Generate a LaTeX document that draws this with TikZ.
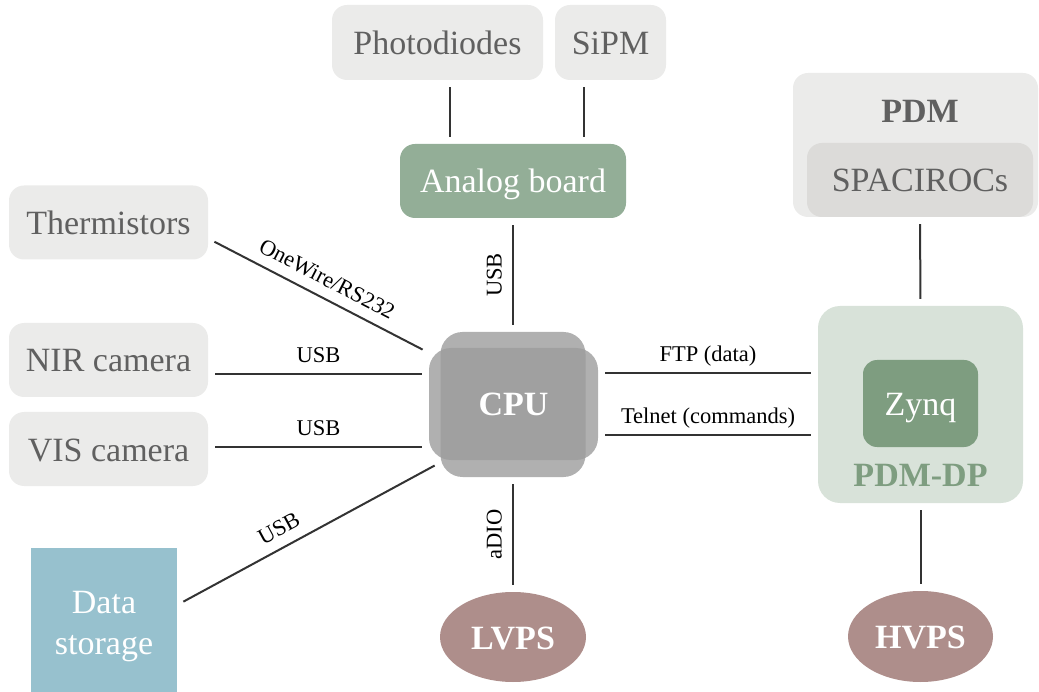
\documentclass[tikz,border=0pt]{standalone}
\usepackage{fontspec}
\setmainfont{Liberation Serif}
\definecolor{boxgray}{RGB}{235, 235, 234}
\definecolor{asicgray}{RGB}{220, 219, 217}
\definecolor{labelgray}{RGB}{96, 96, 96}
\definecolor{cpugray}{RGB}{156, 156, 156}
\definecolor{analoggreen}{RGB}{147, 174, 151}
\definecolor{zynqgreen}{RGB}{126, 157, 128}
\definecolor{dpgreen}{RGB}{216, 226, 217}
\definecolor{supplyred}{RGB}{174, 142, 139}
\definecolor{storeblue}{RGB}{151, 193, 206}
\definecolor{linkgray}{RGB}{51, 51, 51}
\usetikzlibrary{shapes.geometric}

\begin{document}
\begin{tikzpicture}[x=1pt, y=-1pt,
    base/.style={inner sep=0pt, text height=24pt, text depth=0pt, font=\fontsize{34}{41}\selectfont},
    graybox/.style={base, rounded corners=15pt, fill=boxgray, text=labelgray},
    cpubox/.style={base, rounded corners=22pt, fill=cpugray, fill opacity=0.8, text opacity=1, text=white},
    supply/.style={base, ellipse, fill=supplyred, text=white, font=\fontsize{34}{41}\selectfont\bfseries},
    link/.style={line width=2pt, draw=linkgray, shorten <=7pt, shorten >=7pt},
    tag/.style={font=\fontsize{22.5}{27}\selectfont, inner sep=3.5pt, text depth=0pt, sloped, above=7pt},
  ]
  \useasboundingbox (0, 0) rectangle (1039, 692);

  % Light sensors and analog board
  \node[graybox, minimum width=211pt, minimum height=75pt] (photo) at (437.5, 42.5) {Photodiodes};
  \node[graybox, minimum width=111pt, minimum height=75pt] (sipm) at (610.5, 42.5) {SiPM};
  \node[base, rounded corners=15pt, fill=analoggreen, text=white,
        minimum width=226pt, minimum height=74pt] (analog) at (513, 181) {Analog board};

  % CPU (two overlapping boxes)
  \node[cpubox, minimum width=145pt, minimum height=145pt] (cpuv) at (513, 404.5) {};
  \node[cpubox, minimum width=169pt, minimum height=112pt,
        font=\fontsize{34}{41}\selectfont\bfseries] (cpu) at (513.5, 404) {CPU};

  % Left side
  \foreach \name/\y/\txt in {therm/222.5/Thermistors, nir/360/NIR camera, vis/449/VIS camera} {
    \node[graybox, minimum width=199pt, minimum height=74pt] (\name) at (108.5, \y) {\txt};
  }
  \node[base, fill=storeblue, minimum width=146pt, minimum height=144pt,
        label={[name=storetext, text=white, align=center, font=\fontsize{34}{41}\selectfont, yshift=-7pt]center:Data\\storage}]
        (store) at (104, 620) {};

  % Power supplies
  \node[supply, minimum width=146pt, minimum height=90pt] (lvps) at (513, 637) {LVPS};
  \node[supply, minimum width=145pt, minimum height=91pt] (hvps) at (920.5, 636.5) {HVPS};

  % PDM
  \node[graybox, minimum width=245pt, minimum height=144pt] (pdm) at (915.5, 145) {};
  \node[base, text=labelgray, font=\fontsize{34}{41}\selectfont\bfseries] (pdmtitle) at (920, 111) {PDM};
  \node[base, rounded corners=15pt, fill=asicgray, text=labelgray,
        minimum width=226pt, minimum height=74pt] (asic) at (920, 180) {SPACIROCs};

  % PDM-DP
  \node[base, rounded corners=22pt, fill=dpgreen, minimum width=205pt, minimum height=197pt] (pdmdp) at (920.5, 404.5) {};
  \node[base, rounded corners=14pt, fill=zynqgreen, text=white,
        minimum width=115pt, minimum height=87pt] (zynq) at (920.5, 403.5) {Zynq};
  \node[base, text=zynqgreen, font=\fontsize{34}{41}\selectfont\bfseries] (dptitle) at (920.5, 474.5) {PDM-DP};

  % Links
  \draw[link] ([xshift=12.5pt]photo.south) -- ([xshift=12.5pt]photo.south |- analog.north);
  \draw[link] ([xshift=-26.5pt]sipm.south) -- ([xshift=-26.5pt]sipm.south |- analog.north);
  \draw[link] (analog.south |- cpuv.north) -- node[tag] {USB} (analog.south);
  \draw[link] (lvps.north) -- node[tag] {aDIO} (lvps.north |- cpuv.south);

  \draw[link] ([shift={(0, 16)}]therm.east) -- node[tag] {OneWire/RS232} ([shift={(0, 5)}]cpu.north west);
  \draw[link] ([yshift=-14pt]nir.east) -- node[tag] {USB} ([yshift=-14pt]nir.east -| cpu.west);
  \draw[link] ([yshift=2pt]vis.east) -- node[tag] {USB} ([yshift=2pt]vis.east -| cpu.west);
  \draw[link] ([shift={(0, -15)}]store.east) -- node[tag, pos=0.42] {USB} ([shift={(12, 2)}]cpu.south west);

  \draw[link] ([yshift=31pt]cpu.east) -- node[tag] {FTP (data)} ([yshift=31pt]cpu.east -| pdmdp.west);
  \draw[link] ([yshift=-31pt]cpu.east) -- node[tag] {Telnet (commands)} ([yshift=-31pt]cpu.east -| pdmdp.west);
  \draw[link] (asic.south) -- (pdmdp.north);
  \draw[link] (pdmdp.south) -- (hvps.north);
\end{tikzpicture}
\end{document}
